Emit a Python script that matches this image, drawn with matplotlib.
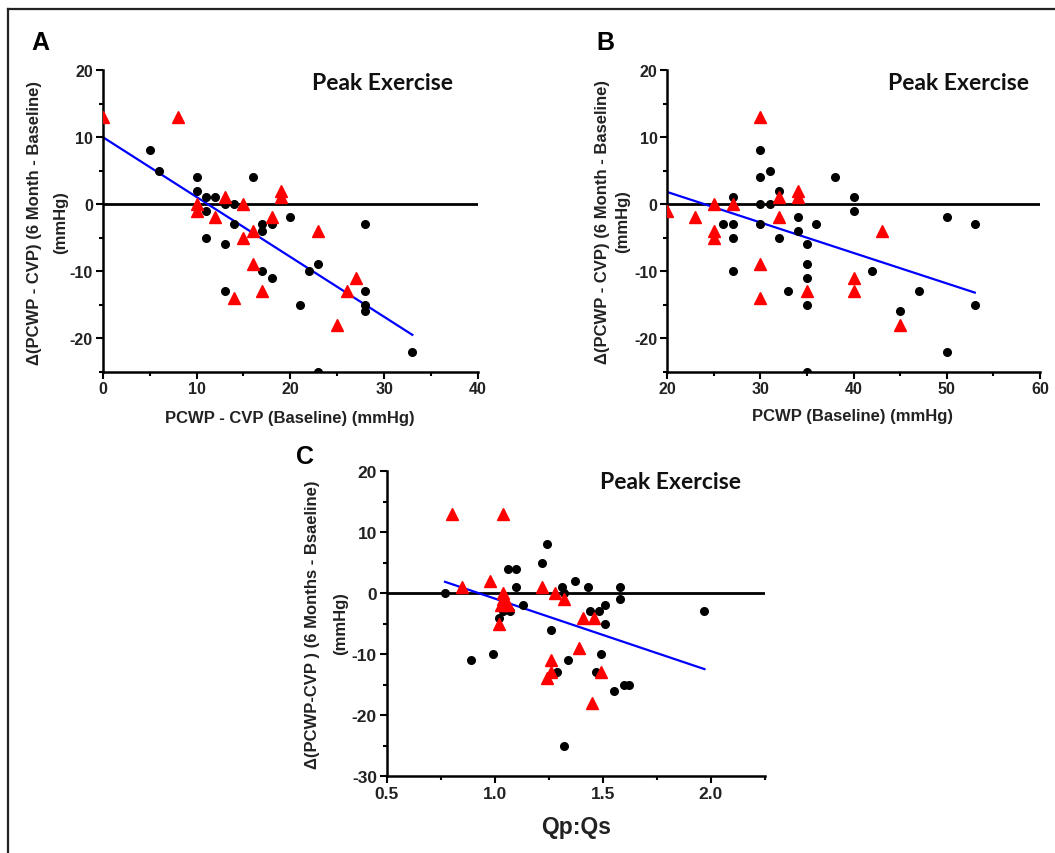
import matplotlib
matplotlib.use('Agg')
import matplotlib.pyplot as plt
from matplotlib.lines import Line2D
from matplotlib.ticker import MultipleLocator, FormatStrFormatter

# Panel A : PCWP - CVP (baseline) vs changement
a_circ_x = [5, 6, 10, 10, 11, 12, 11, 11, 13, 14, 14, 13, 13, 16, 17, 17, 18, 17, 18,
            20, 21, 22, 23, 23, 28, 28, 28, 28, 33]
a_circ_y = [8, 5, 4, 2, 1, 1, -1, -5, 0, 0, -3, -6, -13, 4, -3, -4, -3, -10, -11,
            -2, -15, -10, -9, -25, -3, -13, -15, -16, -22]
a_tri_x = [0, 8, 10, 10, 13, 12, 15, 15, 16, 16, 17, 14, 18, 19, 19, 23, 26, 27, 25]
a_tri_y = [13, 13, 0, -1, 1, -2, 0, -5, -4, -9, -13, -14, -2, 2, 1, -4, -13, -11, -18]
a_fit_x = [0, 33]
a_fit_y = [10, -19.5]

# Panel B : PCWP (baseline)
b_circ_x = [27, 26, 27, 27, 27, 30, 30, 30, 30, 31, 31, 32, 32, 33, 34, 34, 35, 35, 35,
            35, 35, 36, 38, 40, 40, 42, 45, 47, 50, 50, 53, 53]
b_circ_y = [1, -3, -3, -5, -10, 8, 4, 0, -3, 5, 0, 2, -5, -13, -2, -4, -6, -9, -11,
            -15, -25, -3, 4, 1, -1, -10, -16, -13, -2, -22, -3, -15]
b_tri_x = [20, 23, 25, 25, 25, 27, 30, 30, 30, 32, 32, 34, 34, 35, 40, 40, 43, 45]
b_tri_y = [-1, -2, 0, -4, -5, 0, 13, -9, -14, 1, -2, 2, 1, -13, -11, -13, -4, -18]
b_fit_x = [20, 53]
b_fit_y = [1.8, -13.2]

# Panel C : Qp:Qs
c_circ_x = [0.77, 0.89, 0.99, 1.02, 1.04, 1.06, 1.10, 1.10, 1.07, 1.13, 1.22, 1.24, 1.26,
            1.29, 1.31, 1.32, 1.34, 1.32, 1.37, 1.43, 1.44, 1.48, 1.49, 1.51, 1.51, 1.47,
            1.55, 1.58, 1.58, 1.60, 1.62, 1.97]
c_circ_y = [0, -11, -10, -4, -3, 4, 4, 1, -3, -2, 5, 8, -6,
            -13, 1, 0, -11, -25, 2, 1, -3, -3, -10, -2, -5, -13,
            -16, 1, -1, -15, -15, -3]
c_tri_x = [0.80, 1.04, 0.85, 0.98, 1.04, 1.03, 1.06, 1.02, 1.04, 1.22, 1.28, 1.32, 1.41,
           1.46, 1.39, 1.26, 1.26, 1.24, 1.49, 1.45]
c_tri_y = [13, 13, 1, 2, 0, -2, -2, -5, -1, 1, 0, -1, -4,
           -4, -9, -11, -13, -14, -13, -18]
c_fit_x = [0.77, 1.97]
c_fit_y = [1.86, -12.46]

W, H = 1055, 854
plt.rcParams['font.family'] = ['Liberation Sans', 'DejaVu Sans']
plt.rcParams['axes.unicode_minus'] = False
fig = plt.figure(figsize=(W / 100, H / 100), dpi=100)


def px(x, y):
    return x / W, 1 - y / H


def panel(rect, cx, cy, tx, ty, fx, fy, xlim, ylim, xmaj, ymaj, tsize):
    ax = fig.add_axes(rect)
    ax.axhline(0, color='black', lw=2, zorder=1)
    ax.plot(fx, fy, color='#0000ff', lw=1.6, zorder=2)
    ax.plot(cx, cy, 'o', color='black', ms=5.5, zorder=3)
    ax.plot(tx, ty, '^', color='#ff0000', ms=8.5, zorder=4)
    ax.set_xlim(xlim)
    ax.set_ylim(ylim)
    ax.xaxis.set_major_locator(MultipleLocator(xmaj))
    ax.xaxis.set_minor_locator(MultipleLocator(xmaj / 2))
    ax.yaxis.set_major_locator(MultipleLocator(ymaj))
    ax.yaxis.set_minor_locator(MultipleLocator(ymaj / 2))
    for s in ['top', 'right']:
        ax.spines[s].set_visible(False)
    for s in ['left', 'bottom']:
        ax.spines[s].set_linewidth(1.8)
    ax.tick_params(which='major', length=5, width=1.5, labelsize=tsize, pad=2,
                   labelcolor='#222222')
    ax.tick_params(which='minor', length=3, width=1.5)
    return ax


axA = panel([102.7 / W, 1 - 372.7 / H, 375.3 / W, 301.7 / H],
            a_circ_x, a_circ_y, a_tri_x, a_tri_y, a_fit_x, a_fit_y,
            (0, 40), (-25, 20), 10, 10, 11.5)
axB = panel([667.3 / W, 1 - 372.7 / H, 372.7 / W, 301.7 / H],
            b_circ_x, b_circ_y, b_tri_x, b_tri_y, b_fit_x, b_fit_y,
            (20, 60), (-25, 20), 10, 10, 11.5)
axC = panel([386.7 / W, 1 - 777 / H, 378.3 / W, 304.7 / H],
            c_circ_x, c_circ_y, c_tri_x, c_tri_y, c_fit_x, c_fit_y,
            (0.5, 2.25), (-30, 20), 0.5, 10, 12.5)
axC.xaxis.set_major_formatter(FormatStrFormatter('%.1f'))
for ax in [axA, axB, axC]:
    for lab in ax.get_xticklabels() + ax.get_yticklabels():
        lab.set_fontweight('bold')

# Titres "Peak Exercise"
for (x, y) in [(383, 84), (958, 84), (671, 483)]:
    fig.text(*px(x, y), 'Peak Exercise', ha='center', va='center',
             fontsize=16.5, fontweight='bold', family='Lato', color='#111111')

# Lettres des panneaux
for (x, y, t) in [(40, 43, 'A'), (605, 43, 'B'), (305, 457, 'C')]:
    fig.text(*px(x, y), t, ha='center', va='center', fontsize=18, fontweight='bold')

# Etiquettes des axes y
ylab = 'Δ(PCWP - CVP) (6 Month - Baseline)'
lab_kw = dict(rotation=90, ha='center', va='center', fontsize=12, fontweight='bold', color='#222222')
fig.text(*px(35, 223), ylab, **lab_kw)
fig.text(*px(61, 223), '(mmHg)', **lab_kw)
fig.text(*px(602, 222), ylab, **lab_kw)
fig.text(*px(623, 222), '(mmHg)', **lab_kw)
fig.text(*px(313, 625), 'Δ(PCWP-CVP ) (6 Months - Bsaeline)', **lab_kw)
fig.text(*px(341, 624), '(mmHg)', **lab_kw)

# Etiquettes des axes x
fig.text(*px(290, 419), 'PCWP - CVP (Baseline) (mmHg)', ha='center', va='center',
         fontsize=12, fontweight='bold', color='#222222')
fig.text(*px(853, 417), 'PCWP (Baseline) (mmHg)', ha='center', va='center',
         fontsize=12, fontweight='bold', color='#222222')
fig.text(*px(576, 828), 'Qp:Qs', ha='center', va='center', fontsize=16.5, fontweight='bold', color='#222222')

# Cadre
fig.add_artist(Line2D([8 / W, 1], [1 - 10 / H, 1 - 10 / H], color='#222222', lw=1.6))
fig.add_artist(Line2D([8 / W, 8 / W], [0, 1 - 10 / H], color='#222222', lw=1.6))

fig.savefig('out.png', dpi=100)
